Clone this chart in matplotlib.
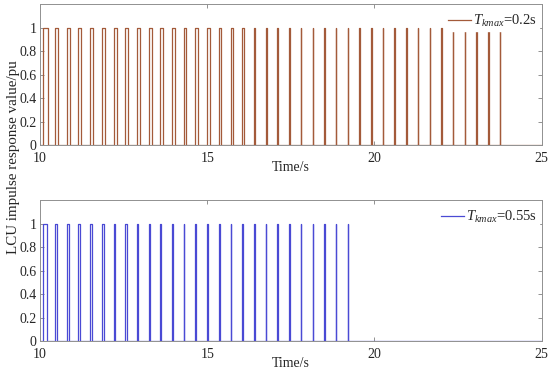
import matplotlib
matplotlib.use("Agg")
import matplotlib.pyplot as plt
import numpy as np

plt.rcParams['font.family'] = ['Liberation Serif', 'DejaVu Serif']
plt.rcParams['mathtext.fontset'] = 'custom'
plt.rcParams['mathtext.rm'] = 'Liberation Serif'
plt.rcParams['mathtext.it'] = 'Liberation Serif:italic'

# ---- data ----
top_onsets = [10.10, 10.45, 10.80, 11.15, 11.50, 11.85, 12.20, 12.55, 12.90, 13.25,
              13.60, 13.95, 14.30, 14.65, 15.00, 15.35, 15.70, 16.05, 16.40, 16.75,
              17.10, 17.45, 17.80, 18.15, 18.50, 18.85, 19.20, 19.55, 19.90, 20.25,
              20.60, 20.95, 21.30, 21.65, 22.00, 22.35, 22.70, 23.05, 23.40, 23.75]
top_widths = [0.15, 0.09, 0.09, 0.09, 0.09, 0.09, 0.09, 0.09, 0.09, 0.09,
              0.09, 0.08, 0.08, 0.08, 0.07, 0.07, 0.06, 0.05, 0.04, 0.03,
              0.015, 0.015, 0.015, 0.015, 0.015, 0.015, 0.015, 0.015, 0.015, 0.015,
              0.015, 0.015, 0.015, 0.015, 0.015, 0.015, 0.015, 0.015, 0.015, 0.015]
top_heights = [1.0] * 40

bot_onsets = [10.10, 10.45, 10.80, 11.15, 11.50, 11.85, 12.20, 12.55, 12.90, 13.25,
              13.60, 13.95, 14.30, 14.65, 15.00, 15.35, 15.70, 16.05, 16.40, 16.75,
              17.10, 17.45, 17.80, 18.15, 18.50, 18.85, 19.20]
bot_widths = [0.12, 0.06, 0.06, 0.06, 0.06, 0.06, 0.04, 0.04, 0.04, 0.03,
              0.03, 0.02, 0.02, 0.02, 0.02, 0.02, 0.02, 0.02, 0.02, 0.02,
              0.015, 0.015, 0.015, 0.015, 0.015, 0.015, 0.015]
bot_heights = [1.0] * 27

x_range = [10, 25]
x_ticks = [10, 15, 20, 25]
y_ticks = [0, 0.2, 0.4, 0.6, 0.8, 1.0]
y_ticklabels = ['0', '0.2', '0.4', '0.6', '0.8', '1']
top_label = r'$T_{kmax}$=0.2s'
bot_label = r'$T_{kmax}$=0.55s'


def pulse_wave(onsets, widths, heights, start, end):
    xs = [start]
    ys = [0.0]
    for t, w, h in zip(onsets, widths, heights):
        xs += [t, t, t + w, t + w]
        ys += [0.0, h, h, 0.0]
    xs.append(end)
    ys.append(0.0)
    return np.array(xs), np.array(ys)


fig = plt.figure(figsize=(5.5, 3.72), dpi=100)
ax1 = fig.add_axes([0.0727, 0.6102, 0.912, 0.379])
ax2 = fig.add_axes([0.0727, 0.0833, 0.912, 0.379])

top_color = '#a35a3a'
bot_color = '#4a4ad4'

x1, y1 = pulse_wave(top_onsets, top_widths, top_heights, x_range[0], x_range[1])
ax1.plot(x1, y1, color=top_color, lw=0.9, label=top_label)
x2, y2 = pulse_wave(bot_onsets, bot_widths, bot_heights, x_range[0], x_range[1])
ax2.plot(x2, y2, color=bot_color, lw=0.9, label=bot_label)

for ax in (ax1, ax2):
    ax.set_xlim(x_range)
    ax.set_ylim(0, 1.2)
    ax.set_xticks(x_ticks)
    ax.set_yticks(y_ticks)
    ax.set_yticklabels(y_ticklabels)
    ax.tick_params(direction='in', top=True, right=True, length=3, width=0.6,
                   color='#808080', labelsize=10, labelcolor='#262626')
    ax.tick_params(axis='x', pad=5.0)
    ax.tick_params(axis='y', pad=2.5)
    for s in ax.spines.values():
        s.set_color('#909090')
        s.set_linewidth(0.7)
    ax.set_xlabel('Time/s', fontsize=10, color='#262626', labelpad=-2.5)
    leg = ax.legend(loc='upper right', bbox_to_anchor=(1.0, 0.97),
                    fontsize=10.5, frameon=True, fancybox=False,
                    handlelength=1.6, handletextpad=0.15, borderpad=0.15,
                    borderaxespad=0.15)
    leg.get_frame().set_edgecolor('white')
    leg.get_frame().set_facecolor('white')
    leg.get_frame().set_alpha(1.0)
    for t in leg.get_texts():
        t.set_color('#262626')

fig.text(0.024, 0.577, 'LCU impulse response value/pu', rotation=90,
         ha='center', va='center', fontsize=10.8, color='#262626')

fig.savefig('out.png', dpi=100)
